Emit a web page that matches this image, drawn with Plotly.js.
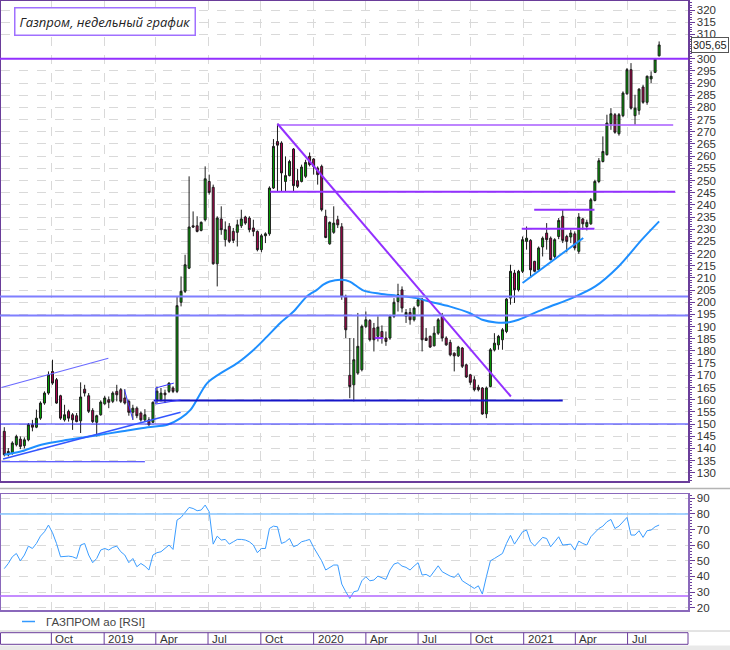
<!DOCTYPE html>
<html><head><meta charset="utf-8">
<script src="https://cdn.plot.ly/plotly-3.0.1.min.js"></script>
<style>html,body{margin:0;padding:0;background:#fff}#chart{width:730px;height:650px}</style>
</head><body><div id="chart"></div>
<script>
// ---------- DATA (weekly, GAZP) ----------
const firstWeek = '2018-07-11';
const opens = [147.0,137.4,138.1,141.5,143.8,141.1,143.5,149.7,148.7,152.4,
158.6,162.7,171.6,168.2,161.6,151.7,155.2,153.8,153.4,151.3,
164.3,161.6,155.6,150.7,153.8,158.3,160.0,159.3,163.4,164.1,
160.7,159.3,154.8,156.5,154.5,151.7,151.7,150.7,160.0,160.0,
162.7,163.4,164.8,163.4,200.0,204.5,214.0,231.4,231.4,229.5,
233.9,249.6,247.2,215.8,234.2,225.7,231.2,229.1,228.7,231.4,
235.0,234.6,230.5,229.1,221.6,227.3,228.1,246.9,266.0,265.4,
249.6,252.0,262.9,249.9,249.6,251.7,259.9,258.8,255.1,255.8,
235.3,224.0,228.7,233.9,231.0,202.4,170.0,166.1,170.9,172.3,
190.1,192.5,189.4,186.0,188.0,185.3,185.3,194.2,200.3,205.1,
194.2,195.8,192.8,198.6,201.3,185.3,186.0,182.1,187.3,194.2,
185.3,183.5,179.1,178.0,181.2,174.3,170.2,168.2,165.1,164.8,
154.2,165.4,180.5,182.5,184.6,188.0,201.7,212.0,205.1,212.7,
225.0,225.4,216.8,213.3,222.7,228.4,226.3,218.8,227.0,235.3,
227.0,226.8,228.1,220.9,234.2,231.1,232.2,241.8,249.6,257.8,
260.6,273.3,277.0,269.2,276.6,285.6,295.5,276.6,278.8,288.4,
282.1,291.7,294.4,301.2];
const highs = [148.7,140.1,142.9,145.6,144.9,144.5,150.4,151.7,155.9,159.3,
163.4,171.6,176.4,168.9,162.0,157.9,155.9,154.5,154.5,167.1,
166.1,162.7,156.5,153.8,159.7,161.6,161.3,163.4,166.1,164.8,
164.3,160.0,157.9,157.2,155.2,156.1,152.8,159.3,165.4,164.8,
164.1,167.1,165.5,202.4,210.6,219.5,251.7,237.3,235.3,233.2,
255.8,252.4,248.3,235.3,239.4,233.2,232.5,230.5,233.9,238.0,
235.5,235.3,233.9,229.5,228.1,228.7,247.6,267.0,273.3,266.1,
259.9,258.5,263.3,254.7,256.5,258.5,261.5,259.2,255.8,256.5,
238.0,233.2,239.4,235.5,232.5,203.1,185.3,185.3,195.6,190.8,
196.2,193.1,191.5,194.2,190.5,188.0,194.9,201.7,207.6,206.5,
197.2,197.6,198.3,201.7,201.7,189.4,186.3,190.1,193.5,195.6,
186.0,184.6,179.4,182.1,181.6,174.8,170.6,169.6,166.1,165.2,
165.4,181.2,187.3,186.6,189.4,201.7,215.4,213.3,213.3,227.0,
231.1,225.9,217.0,222.9,227.0,232.5,227.0,226.3,234.6,238.0,
227.7,229.8,229.1,236.6,234.6,233.9,242.8,250.3,259.2,268.1,
277.0,279.7,277.7,277.7,286.6,296.2,298.2,285.2,287.9,289.3,
293.1,294.8,300.3,307.1];
const lows = [136.7,136.7,137.4,140.8,139.7,140.0,142.9,147.0,148.3,151.7,
157.9,162.0,166.1,158.3,151.7,151.0,151.0,147.6,150.7,146.3,
161.3,154.5,150.4,144.9,153.4,157.9,156.5,158.6,159.3,158.6,
158.0,153.4,151.7,152.4,151.0,151.0,149.3,150.4,158.6,159.3,
158.6,162.7,162.7,162.7,198.3,203.8,213.6,230.5,228.7,229.1,
233.2,244.2,215.4,206.5,227.7,222.9,224.3,224.3,222.9,230.5,
231.8,228.7,227.1,220.9,220.5,224.3,227.3,246.5,245.5,245.5,
245.5,251.7,245.5,246.9,249.2,251.0,255.8,252.4,248.3,237.3,
226.3,223.6,228.1,230.5,201.0,185.3,160.6,159.3,170.2,171.6,
189.4,183.9,179.8,183.9,183.0,182.1,184.6,193.5,196.2,195.8,
191.5,190.8,192.1,198.0,179.8,184.3,181.2,181.9,186.6,183.9,
182.1,177.8,171.6,177.5,173.0,168.9,166.1,163.4,163.4,153.8,
152.4,165.1,179.8,180.5,180.5,187.3,199.0,199.7,204.4,212.0,
221.6,210.6,212.3,212.7,218.8,221.6,217.2,218.1,225.9,224.3,
220.5,224.3,221.3,219.9,229.8,229.5,231.8,241.4,248.9,257.4,
260.2,270.8,269.2,268.4,276.0,285.2,279.1,272.9,277.0,281.5,
281.1,290.0,294.1,300.9];
const closes = [137.4,138.7,142.2,144.9,140.8,143.5,149.7,148.7,152.4,158.6,
162.7,170.2,166.8,158.6,152.4,153.8,152.4,151.7,151.0,161.1,
162.7,155.2,151.0,153.4,159.0,160.7,158.9,162.7,162.0,159.3,
158.6,154.8,156.5,153.4,151.7,153.8,149.7,158.9,163.5,162.7,
162.0,166.8,163.4,198.6,204.5,215.4,230.9,230.9,229.1,232.8,
250.7,245.1,215.8,234.6,229.8,229.8,225.0,225.4,231.8,234.2,
232.5,229.8,229.1,221.6,227.3,228.1,246.9,264.0,264.5,253.1,
252.0,257.8,247.9,247.6,255.5,257.4,256.5,255.8,252.4,238.0,
226.6,232.8,232.5,231.8,202.4,188.7,165.4,176.4,181.9,190.1,
192.8,184.6,184.6,189.8,185.3,183.9,194.2,200.0,203.1,197.6,
195.8,192.8,197.6,201.0,184.6,184.3,181.6,187.3,192.8,185.3,
182.5,178.4,178.0,181.6,173.7,169.3,167.1,164.1,164.1,154.1,
164.8,180.5,183.2,186.0,188.7,201.3,212.7,205.1,212.7,225.7,
226.3,213.3,212.7,222.3,226.3,225.7,217.5,225.7,233.6,225.4,
225.0,228.4,222.3,235.0,232.2,232.8,242.1,249.6,258.1,261.9,
273.6,277.4,269.8,277.0,285.9,295.5,279.7,279.7,287.5,282.1,
292.8,292.8,299.9,305.65];
const rsi = [45.0,48.3,52.6,54.7,50.0,53.7,59.4,57.9,61.1,65.8,
68.6,72.9,68.0,61.1,52.6,53.0,53.0,52.6,51.5,60.1,
61.1,53.7,48.8,51.5,56.9,57.9,56.9,58.6,59.4,55.8,
53.7,48.8,51.5,46.2,48.3,46.6,44.1,53.7,55.2,55.8,
57.9,60.1,57.3,76.1,77.8,80.8,84.2,83.5,82.1,82.5,
85.7,81.4,60.7,65.8,63.3,63.7,60.7,62.2,63.7,63.7,
63.3,62.2,60.1,55.2,57.9,57.9,70.7,72.2,71.8,61.1,
62.2,64.3,59.0,60.1,62.2,62.9,63.7,58.6,54.7,50.0,
44.1,45.8,47.3,47.3,35.1,30.2,25.9,30.2,30.8,37.2,
39.8,37.2,37.7,40.2,39.4,38.1,44.1,47.9,48.8,46.6,
45.8,44.1,46.6,48.8,40.9,41.3,39.8,43.0,46.8,43.0,
41.5,40.2,39.4,41.9,37.2,35.5,33.8,32.3,34.0,28.7,
39.8,50.0,51.5,53.0,54.7,61.1,66.3,60.7,64.3,68.6,
69.7,62.2,59.4,62.2,65.0,64.3,59.0,62.2,65.4,60.1,
60.5,60.7,56.9,62.6,61.1,60.1,65.4,68.0,70.7,72.2,
75.0,76.5,70.7,72.2,75.0,77.8,66.5,66.5,69.3,65.0,
69.3,69.7,71.8,72.9];
// moving average (positions in weeks from first candle)
const maWeek = [0,4.3,9.2,15.9,22.4,29,35.7,40.6,43.9,46.4,50.5,54.6,58,62.1,65.4,68.7,72,75.3,77.8,79.4,81,84,86,89.3,93.5,97.6,102.6,105.8,110.8,115.8,119,122.4,125.7,128,134.8,141.3,147.1,152.9,158.7,163];
const maValue = [137.4,138.8,141.5,143.5,145.2,146.9,148.7,149.7,152.4,155.9,166.8,171.6,175.0,180.5,185.9,191.5,196.2,202.4,205.1,207.2,208.5,209.2,208.5,204.9,203.5,202.7,201.7,200.3,198.3,195.6,192.8,191.7,191.8,192.8,197.6,201.7,206.5,214.7,225.7,233.2];
const tickDates = ['2018-10-01','2019-01-01','2019-04-01','2019-07-01','2019-10-01','2020-01-01','2020-04-01','2020-07-01','2020-10-01','2021-01-01','2021-04-01','2021-07-01'];
const tickLabels = ['Oct','2019','Apr','Jul','Oct','2020','Apr','Jul','Oct','2021','Apr','Jul'];
// price-axis tick labels (305 is covered by the last-price tag)
const priceTicks = [130,135,140,145,150,155,160,165,170,175,180,185,190,195,200,205,210,215,220,225,230,235,240,245,250,255,260,265,270,275,280,285,290,295,300,310,315,320];
const rsiTicks = [20,30,40,50,60,70,80,90];
// analyst levels (price)
const levelFull = {p300: 300, p202: 202.4, p195: 194.6, p150: 150};
const rsiLevels = [80, 27.5];

// ---------- helpers ----------
const W = 730, H = 650;
const base = Date.UTC(2018, 6, 11);
function wk(i) { return new Date(base + i * 7 * 86400000).toISOString().slice(0, 19).replace('T', ' '); }
const dates = opens.map((_, i) => wk(i));
const maDates = maWeek.map(wk);
const PX = x => x / W, PY = y => 1 - y / H;
const PLOT_R = 688;

const shapes = [];
function seg(w0, p0, w1, p1, color, width) {
  shapes.push({type: 'line', xref: 'x', yref: 'y', x0: wk(w0), y0: p0, x1: wk(w1), y1: p1, line: {color, width}});
}
function full(p, color, width, yref) {
  shapes.push({type: 'line', xref: 'paper', yref: yref || 'y', x0: 0, x1: PX(PLOT_R), y0: p, y1: p, line: {color, width}});
}
const PURPLE = '#9330ff', LPURPLE = '#a95cff';
full(levelFull.p300, PURPLE, 2);
seg(68, 272.8, 166.5, 272.8, LPURPLE, 1.5);
seg(66.2, 245.4, 167, 245.4, PURPLE, 2);
seg(68, 273.3, 126.1, 161.3, PURPLE, 2);
seg(131.9, 238.0, 146.9, 238.0, PURPLE, 2);
seg(128.8, 230.2, 146.9, 230.2, PURPLE, 2);
seg(92.2, 185.3, 94.3, 185.3, PURPLE, 2);
full(levelFull.p202, '#7f7fff', 2);
full(levelFull.p195, '#7f7fff', 2);
seg(37.2, 159.7, 139, 159.7, '#1515c8', 2);
full(levelFull.p150, '#2a2aff', 1);
seg(-0.7, 134.5, 35, 134.5, '#2a2aff', 1);
seg(-0.7, 165.0, 25.9, 177.0, '#6a6aff', 1.2);
seg(-0.3, 135.6, 43.9, 154.8, '#3355ff', 1.5);
seg(37.7, 164.8, 42.2, 166.8, '#3535ff', 1);
seg(37.7, 158.2, 43.9, 159.9, '#3535ff', 1);
seg(37.7, 158.2, 37.7, 164.8, '#3535ff', 1);
seg(29.9, 164.1, 32.0, 151.8, '#3535ff', 1);
seg(129, 207.9, 144.1, 226.4, '#1e8fff', 2);
full(rsiLevels[0], '#86c4ff', 1.5, 'y2');
full(rsiLevels[1], '#b266ff', 1.5, 'y2');
// panel separators and bottom axis bar
shapes.push({type: 'line', xref: 'paper', yref: 'paper', x0: 0, x1: 1, y0: PY(488.5), y1: PY(488.5), line: {color: '#b4b4b4', width: 1.5}});
shapes.push({type: 'line', xref: 'paper', yref: 'paper', x0: 0, x1: 1, y0: PY(631), y1: PY(631), line: {color: '#c8c8c8', width: 1}});
shapes.push({type: 'rect', xref: 'paper', yref: 'paper', x0: 0, x1: 1, y0: 0, y1: PY(645.5), fillcolor: '#e9e9e9', line: {width: 0}});
shapes.push({type: 'rect', xref: 'paper', yref: 'paper', x0: PX(0.5), x1: PX(PLOT_R), y0: PY(644.3), y1: PY(632.7), line: {color: '#6a3d9a', width: 1}});
tickDates.forEach(d => shapes.push({type: 'line', xref: 'x', yref: 'paper', x0: d, x1: d, y0: PY(644.3), y1: PY(632.7), line: {color: '#6a3d9a', width: 1}}));
shapes.push({type: 'line', xref: 'paper', yref: 'paper', x0: PX(22), x1: PX(35), y0: PY(621.5), y1: PY(621.5), line: {color: '#3399ff', width: 1.5}});

const annotations = tickLabels.map((t, k) => ({
  xref: 'x', yref: 'paper', x: tickDates[k], y: PY(638.5), xanchor: 'left', yanchor: 'middle', xshift: 2,
  text: t, showarrow: false, font: {family: 'Liberation Sans, Arial', size: 11.5, color: '#333'}
}));
annotations.push({xref: 'paper', yref: 'paper', x: PX(14), y: PY(21.5), xanchor: 'left', yanchor: 'middle',
  text: '<i>Газпром, недельный график</i>', showarrow: false, bgcolor: '#fff', bordercolor: '#a070ff', borderwidth: 1.5, borderpad: 4,
  font: {family: 'Open Sans, Noto Sans', size: 13, color: '#222'}});
annotations.push({xref: 'paper', yref: 'y', x: PX(709.5), y: closes[closes.length - 1], xanchor: 'center', yanchor: 'middle',
  text: closes[closes.length - 1].toFixed(2).replace('.', ','), showarrow: false, bgcolor: '#fff', bordercolor: '#555', borderwidth: 1, borderpad: 1,
  font: {family: 'Liberation Sans, Arial', size: 11, color: '#222'}});
annotations.push({xref: 'paper', yref: 'paper', x: PX(44), y: PY(621.5), xanchor: 'left', yanchor: 'middle',
  text: 'ГАЗПРОМ ао [RSI]', showarrow: false, font: {family: 'Liberation Sans, Arial', size: 11.5, color: '#444'}});

const traces = [
  {type: 'candlestick', x: dates, open: opens, high: highs, low: lows, close: closes, xaxis: 'x', yaxis: 'y',
   increasing: {line: {color: '#1c1c1c', width: 1}, fillcolor: '#00a400'},
   decreasing: {line: {color: '#1c1c1c', width: 1}, fillcolor: '#b2004f'},
   whiskerwidth: 0, hoverinfo: 'skip', showlegend: false},
  {type: 'scatter', mode: 'lines', x: maDates, y: maValue, xaxis: 'x', yaxis: 'y',
   line: {color: '#1e8fff', width: 2, shape: 'spline', smoothing: 0.8}, hoverinfo: 'skip', showlegend: false},
  {type: 'scatter', mode: 'lines', x: dates, y: rsi, xaxis: 'x2', yaxis: 'y2',
   line: {color: '#3a9cff', width: 1}, hoverinfo: 'skip', showlegend: false}
];

const xRange = ['2018-07-04 19:00', '2021-10-14 07:00'];
const gridC = '#d9d9d9';
const axFont = {family: 'Liberation Sans, Arial', size: 11.5, color: '#333'};
const layout = {
  width: W, height: H, margin: {l: 0, r: 0, t: 0, b: 0}, paper_bgcolor: '#fff', plot_bgcolor: '#fff',
  showlegend: false, hovermode: false, dragmode: false,
  xaxis: {domain: [0.001, PX(PLOT_R)], type: 'date', range: xRange, anchor: 'y', rangeslider: {visible: false},
    tickmode: 'array', tickvals: tickDates, showticklabels: false, ticks: '', showgrid: true, gridcolor: gridC, griddash: 'dash',
    showline: true, mirror: true, linecolor: '#6a3d9a', linewidth: 1.5, zeroline: false, fixedrange: true},
  yaxis: {domain: [PY(481), PY(1)], range: [126.6, 323.7], side: 'right', anchor: 'x',
    tickmode: 'array', tickvals: priceTicks, ticktext: priceTicks.map(String),
    ticks: 'outside', ticklen: 5, tickcolor: '#6a3d9a', tickwidth: 1, tickfont: axFont,
    minor: {tickmode: 'linear', tick0: 0, dtick: 1, ticks: 'outside', ticklen: 2, tickcolor: '#6a3d9a', showgrid: false},
    showgrid: true, gridcolor: gridC, griddash: 'dash', showline: true, mirror: true, linecolor: '#6a3d9a', linewidth: 1.5,
    zeroline: false, fixedrange: true},
  xaxis2: {domain: [0.001, PX(PLOT_R)], type: 'date', range: xRange, anchor: 'y2', matches: 'x',
    tickmode: 'array', tickvals: tickDates, showticklabels: false, ticks: '', showgrid: true, gridcolor: gridC, griddash: 'dash',
    showline: true, mirror: true, linecolor: '#8a68bb', linewidth: 1.5, zeroline: false, fixedrange: true},
  yaxis2: {domain: [PY(610), PY(494.3)], range: [18.5, 92.6], side: 'right', anchor: 'x2',
    tickmode: 'array', tickvals: rsiTicks, ticktext: rsiTicks.map(String),
    ticks: 'outside', ticklen: 5, tickcolor: '#6a3d9a', tickfont: axFont,
    minor: {tickmode: 'linear', tick0: 0, dtick: 2, ticks: 'outside', ticklen: 2, tickcolor: '#6a3d9a', showgrid: false},
    showgrid: true, gridcolor: gridC, griddash: 'dash', showline: true, mirror: true, linecolor: '#8a68bb', linewidth: 1.5,
    zeroline: false, fixedrange: true},
  shapes, annotations
};
Plotly.newPlot('chart', traces, layout, {staticPlot: true, displayModeBar: false});
</script></body></html>
